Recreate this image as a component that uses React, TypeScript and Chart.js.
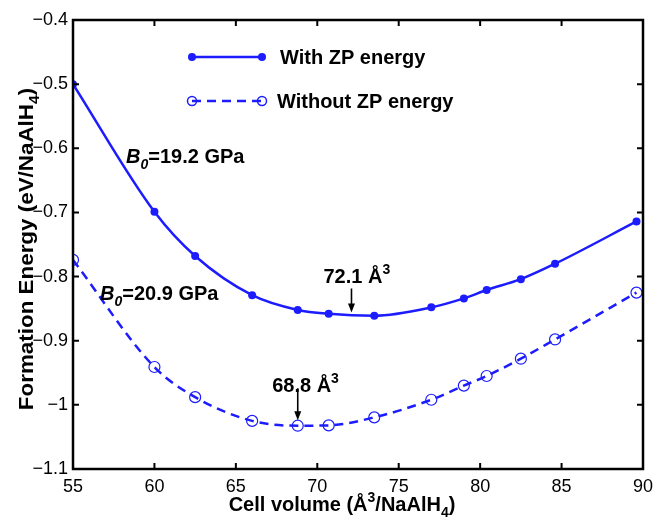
import React, { useEffect, useRef } from "react";
import { Chart, registerables } from "chart.js";

Chart.register(...registerables);

// ---- data ----
const cellVolumes = [55, 60, 62.5, 66, 68.8, 70.7, 73.5, 77, 79, 80.4, 82.5, 84.6, 89.6];
const withZP = [-0.5, -0.699, -0.768, -0.829, -0.852, -0.858, -0.861, -0.848, -0.834, -0.821, -0.804, -0.78, -0.714];
const withoutZP = [-0.774, -0.941, -0.988, -1.025, -1.0325, -1.032, -1.0195, -0.992, -0.97, -0.955, -0.928, -0.898, -0.825];
const seriesLabels = ["With ZP energy", "Without ZP energy"];
const minimaVolumes = [72.1, 68.8];
const minimaArrowTips = [-0.856, -1.024];
const minimaLabels = ["72.1 Å", "68.8 Å"];
const bulkModuli = ["=19.2 GPa", "=20.9 GPa"];

const BLUE = "#1c1cff";
const FONT = "'Liberation Sans', Arial, Helvetica, sans-serif";

type Part = [string, "n" | "i" | "sup" | "sub" | "isub"];

function partFont(kind: string, size: number) {
  const s = kind === "sup" || kind === "sub" || kind === "isub" ? Math.round(size * 0.7) : size;
  const it = kind === "i" || kind === "isub" ? "italic " : "";
  return `${it}bold ${s}px ${FONT}`;
}

function drawRich(ctx: CanvasRenderingContext2D, parts: Part[], x: number, y: number, size: number, align: "left" | "center") {
  let total = 0;
  for (const [t, k] of parts) {
    ctx.font = partFont(k, size);
    total += ctx.measureText(t).width;
  }
  let cx = align === "center" ? x - total / 2 : x;
  ctx.textAlign = "left";
  ctx.textBaseline = "alphabetic";
  for (const [t, k] of parts) {
    ctx.font = partFont(k, size);
    let dy = 0;
    if (k === "sup") dy = -size * 0.45;
    if (k === "sub" || k === "isub") dy = size * 0.28;
    ctx.fillText(t, cx, y + dy);
    cx += ctx.measureText(t).width;
  }
}

function arrow(ctx: CanvasRenderingContext2D, x: number, y0: number, y1: number) {
  ctx.beginPath();
  ctx.moveTo(x, y0);
  ctx.lineTo(x, y1 - 6);
  ctx.lineWidth = 1.6;
  ctx.stroke();
  ctx.beginPath();
  ctx.moveTo(x - 3.5, y1 - 9);
  ctx.lineTo(x + 3.5, y1 - 9);
  ctx.lineTo(x, y1);
  ctx.closePath();
  ctx.fill();
}

const overlay = {
  id: "overlay",
  afterDraw(chart: any) {
    const { ctx, chartArea: a, scales } = chart;
    const x = scales.x;
    const y = scales.y;
    ctx.save();
    ctx.strokeStyle = "#000";
    ctx.fillStyle = "#000";
    // box
    ctx.lineWidth = 2.5;
    ctx.strokeRect(a.left, a.top, a.right - a.left, a.bottom - a.top);
    // inward ticks on all sides
    ctx.lineWidth = 2;
    const tl = 6;
    for (const t of x.ticks) {
      const px = x.getPixelForValue(t.value);
      ctx.beginPath();
      ctx.moveTo(px, a.bottom);
      ctx.lineTo(px, a.bottom - tl);
      ctx.moveTo(px, a.top);
      ctx.lineTo(px, a.top + tl);
      ctx.stroke();
    }
    for (const t of y.ticks) {
      const py = y.getPixelForValue(t.value);
      ctx.beginPath();
      ctx.moveTo(a.left, py);
      ctx.lineTo(a.left + tl, py);
      ctx.moveTo(a.right, py);
      ctx.lineTo(a.right - tl, py);
      ctx.stroke();
    }

    // axis titles
    drawRich(ctx, [["Cell volume (Å", "n"], ["3", "sup"], ["/NaAlH", "n"], ["4", "sub"], [")", "n"]], 342, 511, 20, "center");
    ctx.save();
    ctx.translate(33, 249);
    ctx.rotate(-Math.PI / 2);
    ctx.scale(1.12, 1);
    drawRich(ctx, [["Formation Energy (eV/NaAlH", "n"], ["4", "sub"], [")", "n"]], 0, 0, 20, "center");
    ctx.restore();

    // minima annotations
    const offsets = [[-28, 283, 24], [-25.6, 392, 32]];
    minimaVolumes.forEach((v, i) => {
      const px = x.getPixelForValue(v);
      const tip = y.getPixelForValue(minimaArrowTips[i]);
      drawRich(ctx, [[minimaLabels[i], "n"], ["3", "sup"]], px + offsets[i][0], offsets[i][1], 20, "left");
      arrow(ctx, px, tip - offsets[i][2], tip);
    });

    // bulk modulus labels
    drawRich(ctx, [["B", "i"], ["0", "isub"], [bulkModuli[0], "n"]], 126, 163, 20, "left");
    drawRich(ctx, [["B", "i"], ["0", "isub"], [bulkModuli[1], "n"]], 100, 300, 20, "left");

    // legend
    ctx.strokeStyle = BLUE;
    ctx.fillStyle = BLUE;
    ctx.lineWidth = 2.5;
    ctx.beginPath();
    ctx.moveTo(192, 57);
    ctx.lineTo(262, 57);
    ctx.stroke();
    for (const mx of [192, 262]) {
      ctx.beginPath();
      ctx.arc(mx, 57, 4, 0, Math.PI * 2);
      ctx.fill();
    }
    ctx.setLineDash([9, 6]);
    ctx.beginPath();
    ctx.moveTo(192, 101);
    ctx.lineTo(262, 101);
    ctx.stroke();
    ctx.setLineDash([]);
    ctx.lineWidth = 1.5;
    for (const mx of [192, 262]) {
      ctx.beginPath();
      ctx.arc(mx, 101, 4.5, 0, Math.PI * 2);
      ctx.stroke();
    }
    ctx.fillStyle = "#000";
    drawRich(ctx, [[seriesLabels[0], "n"]], 280, 64, 20, "left");
    drawRich(ctx, [[seriesLabels[1], "n"]], 277, 108, 20, "left");
    ctx.restore();
  },
};

function fmt(v: number) {
  const r = Math.round(v * 10) / 10;
  return String(r).replace("-", "\u2212");
}

export default function App() {
  const ref = useRef<HTMLCanvasElement>(null);
  useEffect(() => {
    if (!ref.current) return;
    Chart.defaults.font.family = FONT;
    const chart = new Chart(ref.current, {
      type: "line",
      data: {
        datasets: [
          {
            label: seriesLabels[0],
            data: cellVolumes.map((v, i) => ({ x: v, y: withZP[i] })),
            borderColor: BLUE,
            backgroundColor: BLUE,
            borderWidth: 2.5,
            pointRadius: 4,
            pointBorderWidth: 0,
            pointBackgroundColor: BLUE,
            cubicInterpolationMode: "monotone",
          },
          {
            label: seriesLabels[1],
            data: cellVolumes.map((v, i) => ({ x: v, y: withoutZP[i] })),
            borderColor: BLUE,
            backgroundColor: "transparent",
            borderWidth: 2.5,
            borderDash: [9, 6],
            pointRadius: 5.5,
            pointBorderWidth: 1.2,
            pointBorderColor: BLUE,
            pointBackgroundColor: "transparent",
            cubicInterpolationMode: "monotone",
          },
        ],
      },
      options: {
        responsive: false,
        animation: false,
        layout: { padding: { top: 20, right: 11, left: 0, bottom: 0 } },
        plugins: { legend: { display: false }, tooltip: { enabled: false } },
        scales: {
          x: {
            type: "linear",
            min: 55,
            max: 90,
            grid: { display: false, drawTicks: false },
            border: { display: false },
            ticks: { stepSize: 5, color: "#000", font: { size: 18 }, padding: 7 },
            afterFit: (s: any) => { s.height = 50; s.paddingLeft = 0; s.paddingRight = 0; },
          },
          y: {
            type: "linear",
            min: -1.1,
            max: -0.4,
            grid: { display: false, drawTicks: false },
            border: { display: false },
            ticks: { stepSize: 0.1, color: "#000", font: { size: 18 }, padding: 5, callback: (v: any) => fmt(Number(v)) },
            afterFit: (s: any) => { s.width = 73; s.paddingTop = 0; s.paddingBottom = 0; },
          },
        },
      },
      plugins: [overlay],
    } as any);
    return () => chart.destroy();
  }, []);
  return (
    <div style={{ position: "fixed", left: 0, top: 0, width: 654, height: 519, background: "#fff" }}>
      <canvas ref={ref} width={654} height={519} />
    </div>
  );
}
